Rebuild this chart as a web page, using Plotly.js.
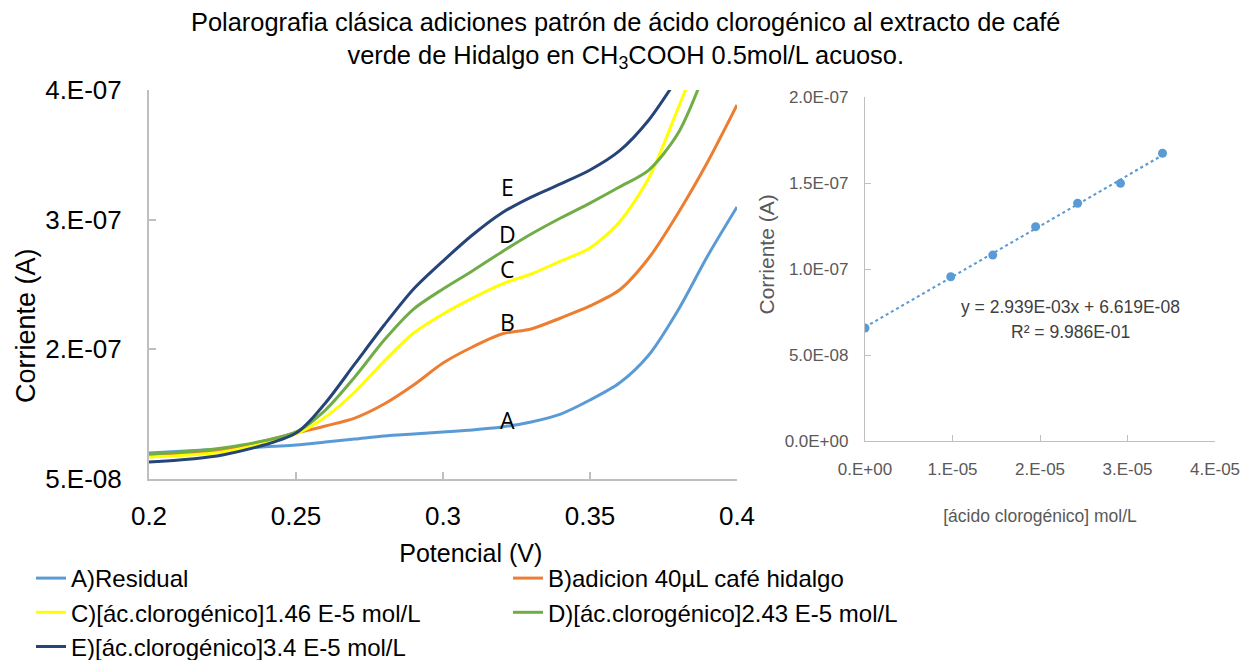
<!DOCTYPE html>
<html>
<head>
<meta charset="utf-8">
<script src="https://cdn.plot.ly/plotly-3.0.1.min.js"></script>
<style>html,body{margin:0;padding:0;background:#fff;overflow:hidden;width:1244px;height:660px;}#chart{width:1244px;height:680px;}</style>
</head>
<body>
<div id="chart"></div>
<script>
// ---- Main polarogram data (Potencial in V, Corriente in A) ----
const potencial = [0.2,0.225,0.25,0.26,0.27,0.28,0.29,0.3,0.31,0.32,0.33,0.34,0.35,0.36,0.37,0.38,0.39,0.4];
const residualA = [7.21e-8,7.55e-8,7.88e-8,8.14e-8,8.39e-8,8.65e-8,8.82e-8,8.99e-8,9.16e-8,9.41e-8,9.84e-8,1.051e-7,1.170e-7,1.314e-7,1.552e-7,1.934e-7,2.392e-7,2.808e-7];
const cafeB = [7.04e-8,7.46e-8,8.90e-8,9.50e-8,1.017e-7,1.136e-7,1.297e-7,1.484e-7,1.620e-7,1.730e-7,1.773e-7,1.866e-7,1.968e-7,2.103e-7,2.375e-7,2.757e-7,3.189e-7,3.673e-7];
const adicionC = [6.87e-8,7.29e-8,8.82e-8,1.026e-7,1.238e-7,1.501e-7,1.739e-7,1.900e-7,2.035e-7,2.154e-7,2.239e-7,2.349e-7,2.460e-7,2.680e-7,3.053e-7,3.647e-7,4.267e-7];
const adicionD = [7.12e-8,7.63e-8,8.99e-8,1.085e-7,1.365e-7,1.679e-7,1.942e-7,2.112e-7,2.265e-7,2.426e-7,2.578e-7,2.714e-7,2.841e-7,2.977e-7,3.121e-7,3.435e-7,4.012e-7];
const adicionE = [6.44e-8,7.04e-8,8.90e-8,1.145e-7,1.476e-7,1.806e-7,2.112e-7,2.349e-7,2.570e-7,2.757e-7,2.892e-7,3.003e-7,3.121e-7,3.283e-7,3.546e-7,3.910e-7,4.309e-7];
const seriesNames = ['A)Residual','B)adicion 40µL café hidalgo','C)[ác.clorogénico]1.46 E-5 mol/L','D)[ác.clorogénico]2.43 E-5 mol/L','E)[ác.clorogénico]3.4 E-5 mol/L'];
const seriesColors = ['#5B9BD5','#ED7D31','#FFFF00','#70AD47','#264478'];
const mainYTickVals = [5e-8,1.6e-7,2.7e-7,3.8e-7];
const mainYTickText = ['5.E-08','2.E-07','3.E-07','4.E-07'];
const mainXTickVals = [0.2,0.25,0.3,0.35,0.4];
const mainXTickText = ['0.2','0.25','0.3','0.35','0.4'];
// curve labels
const curveLetters = ['A','B','C','D','E'];
const curveLetterY = [1.0e-7,1.832e-7,2.281e-7,2.578e-7,2.977e-7];
const curveLetterX = 0.322;

// ---- Calibration (inset) data ----
const concentracion = [0,9.8e-6,1.46e-5,1.95e-5,2.43e-5,2.92e-5,3.4e-5];
const corrienteCal = [6.57e-8,9.55e-8,1.081e-7,1.246e-7,1.382e-7,1.498e-7,1.673e-7];
const fitSlope = 2.939e-3;
const fitIntercept = 6.619e-8;
const insetXTickVals = [0,1e-5,2e-5,3e-5,4e-5];
const insetXTickText = ['0.E+00','1.E-05','2.E-05','3.E-05','4.E-05'];
const insetYTickVals = [0,5e-8,1e-7,1.5e-7,2e-7];
const insetYTickText = ['0.0E+00','5.0E-08','1.0E-07','1.5E-07','2.0E-07'];

const mainSeries = [residualA, cafeB, adicionC, adicionD, adicionE];
const traces = mainSeries.map((ys, i) => ({
  type: 'scatter', mode: 'lines',
  x: potencial.slice(0, ys.length), y: ys,
  name: seriesNames[i],
  line: {color: seriesColors[i], width: 3, shape: 'spline', smoothing: 0.8},
  xaxis: 'x', yaxis: 'y', hoverinfo: 'x+y'
}));

const fitX = [concentracion[0], concentracion[concentracion.length - 1]];
traces.push({
  type: 'scatter', mode: 'lines', x: fitX, y: fitX.map(v => fitSlope * v + fitIntercept),
  line: {color: '#5B9BD5', width: 2.2, dash: 'dot'},
  xaxis: 'x2', yaxis: 'y2', showlegend: false, hoverinfo: 'skip'
});
traces.push({
  type: 'scatter', mode: 'markers', x: concentracion, y: corrienteCal,
  marker: {color: '#5B9BD5', size: 9},
  xaxis: 'x2', yaxis: 'y2', showlegend: false, name: 'Calibración'
});

// figure is drawn 680 px tall so the legend box never forces a margin push; the window shows the top 660 px
const W = 1244, H = 680;
const px = v => v / W, py = v => 1 - v / H;
const sans = '"Liberation Sans", Arial, sans-serif';
const insetGrey = '#595959';
const nb = n => '&nbsp;'.repeat(n);

const annotations = curveLetters.map((t, i) => ({
  x: curveLetterX, y: curveLetterY[i], xref: 'x', yref: 'y', text: t, showarrow: false,
  xanchor: 'center', yanchor: 'middle',
  font: {family: '"Open Sans", "Liberation Sans", sans-serif', size: 23, color: '#000'}
}));
annotations.push({
  x: px(1070), y: py(307), xref: 'paper', yref: 'paper', showarrow: false, xanchor: 'center', yanchor: 'middle',
  text: 'y = 2.939E-03x + 6.619E-08', font: {family: sans, size: 17.5, color: '#404040'}
});
annotations.push({
  x: px(1070), y: py(332), xref: 'paper', yref: 'paper', showarrow: false, xanchor: 'center', yanchor: 'middle',
  text: 'R² = 9.986E-01', font: {family: sans, size: 17.5, color: '#404040'}
});

const layout = {
  width: W, height: H,
  margin: {l: 0, r: 0, t: 0, b: 0},
  paper_bgcolor: '#ffffff', plot_bgcolor: 'rgba(0,0,0,0)',
  font: {family: sans, color: '#000'},
  title: {
    text: 'Polarografia clásica adiciones patrón de ácido clorogénico al extracto de café<br>verde de Hidalgo en CH<sub>3</sub>COOH 0.5mol/L acuoso.',
    x: 0.503, xanchor: 'center', y: py(31), yanchor: 'top', font: {size: 25.4, color: '#000'}
  },
  showlegend: true,
  legend: {
    orientation: 'h', x: px(31), xanchor: 'left', y: py(556), yanchor: 'top',
    font: {size: 24, color: '#000'}, entrywidth: 432, entrywidthmode: 'pixels',
    bgcolor: 'rgba(0,0,0,0)', traceorder: 'normal', itemclick: false
  },
  xaxis: {
    domain: [px(149), px(737)], anchor: 'y', range: [0.2, 0.4],
    tickvals: mainXTickVals, ticktext: mainXTickText,
    ticks: 'inside', ticklen: 7, tickwidth: 2, tickcolor: '#BFBFBF',
    showline: true, linecolor: '#BFBFBF', linewidth: 2, showgrid: false, zeroline: false,
    tickfont: {size: 26, color: '#000'}, ticklabelstandoff: 13,
    title: {text: nb(8) + 'Potencial (V)', font: {size: 25, color: '#000'}, standoff: 14},
    automargin: false, fixedrange: true
  },
  yaxis: {
    domain: [py(479), py(90)], anchor: 'x', range: [5e-8, 3.8e-7],
    tickvals: mainYTickVals, ticktext: mainYTickText,
    ticks: 'inside', ticklen: 7, tickwidth: 2, tickcolor: '#BFBFBF',
    showline: true, linecolor: '#BFBFBF', linewidth: 2, showgrid: false, zeroline: false,
    tickfont: {size: 26, color: '#000'}, ticklabelstandoff: 20,
    title: {text: 'Corriente (A)' + nb(11), font: {size: 27, color: '#000'}, standoff: 2},
    automargin: false, fixedrange: true
  },
  xaxis2: {
    domain: [px(865), px(1215)], anchor: 'y2', range: [0, 4e-5],
    tickvals: insetXTickVals, ticktext: insetXTickText,
    ticks: 'inside', ticklen: 6, tickwidth: 1, tickcolor: '#BFBFBF',
    showline: true, linecolor: '#BFBFBF', linewidth: 1.3, showgrid: false, zeroline: false,
    tickfont: {family: sans, size: 17, color: insetGrey}, ticklabelstandoff: 12,
    title: {text: '[ácido clorogénico] mol/L', font: {family: sans, size: 17.5, color: insetGrey}, standoff: 32},
    automargin: false, fixedrange: true
  },
  yaxis2: {
    domain: [py(441), py(97)], anchor: 'x2', range: [0, 2e-7],
    tickvals: insetYTickVals, ticktext: insetYTickText,
    ticks: 'inside', ticklen: 6, tickwidth: 1, tickcolor: '#BFBFBF',
    showline: true, linecolor: '#BFBFBF', linewidth: 1.3, showgrid: false, zeroline: false,
    tickfont: {family: sans, size: 17, color: insetGrey}, ticklabelstandoff: 12,
    title: {text: nb(5) + 'Corriente (A)', font: {family: sans, size: 21, color: insetGrey}, standoff: 4},
    automargin: false, fixedrange: true
  },
  annotations: annotations
};

Plotly.newPlot('chart', traces, layout, {displayModeBar: false, responsive: false});
</script>
</body>
</html>
